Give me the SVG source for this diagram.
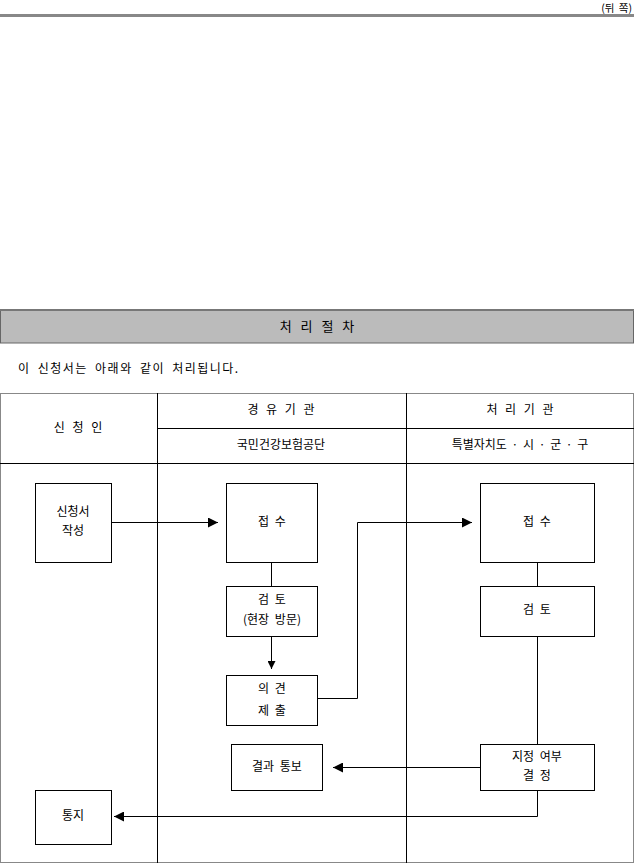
<svg xmlns="http://www.w3.org/2000/svg" width="635" height="865" viewBox="0 0 635 865">
<style>
text{font-family:"Noto Sans CJK KR","Noto Sans",sans-serif;font-size:12px;fill:#000;text-anchor:middle;word-spacing:3px}
.box{fill:#fff;stroke:#000;stroke-width:1}
.ln{fill:none;stroke:#000;stroke-width:1}
</style>
<defs>
<marker id="ah" viewBox="0 0 10 10" refX="10" refY="5" markerWidth="10" markerHeight="10" markerUnits="userSpaceOnUse" orient="auto">
<path d="M0,0 L10,5 L0,10 z" fill="#000"/>
</marker>
<marker id="ahs" viewBox="0 0 10 10" refX="10" refY="5" markerWidth="8" markerHeight="8" markerUnits="userSpaceOnUse" orient="auto">
<path d="M0,0 L10,5 L0,10 z" fill="#000"/>
</marker>
</defs>
<rect width="635" height="865" fill="#fff"/>
<text x="632" y="12" style="text-anchor:end;font-size:10.5px;word-spacing:2px">(뒤 쪽)</text>
<line x1="0" y1="15.5" x2="634" y2="15.5" stroke="#888" stroke-width="3"/>
<g id="title">
<rect x="0.5" y="310" width="633" height="33" fill="#bbb" stroke="#666" stroke-width="1"/>
<line x1="0" y1="310" x2="634" y2="310" stroke="#777" stroke-width="2"/>
<text x="317" y="331" style="font-size:13px;word-spacing:6px">처 리 절 차</text>
</g>
<text x="18" y="373" style="text-anchor:start;letter-spacing:1.5px;word-spacing:3px">이 신청서는 아래와 같이 처리됩니다.</text>
<g id="table">
<rect x="0.5" y="393.5" width="633" height="469" fill="none" stroke="#888" stroke-width="1"/>
<line class="ln" x1="157.5" y1="393" x2="157.5" y2="863"/>
<line class="ln" x1="406.5" y1="393" x2="406.5" y2="863"/>
<line class="ln" x1="157" y1="428.5" x2="634" y2="428.5"/>
<line class="ln" x1="0" y1="463.5" x2="634" y2="463.5"/>
<text x="78" y="432" style="word-spacing:5px">신 청 인</text>
<text x="281" y="414" style="word-spacing:5px">경 유 기 관</text>
<text x="520" y="414" style="word-spacing:5px">처 리 기 관</text>
<text x="281" y="449">국민건강보험공단</text>
<text x="520" y="449" style="word-spacing:2px">특별자치도 · 시 · 군 · 구</text>
</g>
<g id="connectors">
<line class="ln" x1="111" y1="522.5" x2="218" y2="522.5" marker-end="url(#ah)"/>
<line class="ln" x1="271.5" y1="562" x2="271.5" y2="586"/>
<line class="ln" x1="271.5" y1="636" x2="271.5" y2="669" marker-end="url(#ahs)"/>
<polyline class="ln" points="317,698.5 357.5,698.5 357.5,522.5 472,522.5" marker-end="url(#ah)"/>
<line class="ln" x1="537.5" y1="562" x2="537.5" y2="586"/>
<line class="ln" x1="537.5" y1="636" x2="537.5" y2="744"/>
<line class="ln" x1="480" y1="767.5" x2="333" y2="767.5" marker-end="url(#ah)"/>
<polyline class="ln" points="537.5,790 537.5,816.5 114,816.5" marker-end="url(#ah)"/>
</g>
<g id="n1"><rect class="box" x="35.5" y="483.5" width="76" height="79"/><text x="73" y="516">신청서</text><text x="73" y="535">작성</text></g>
<g id="n2"><rect class="box" x="226.5" y="483.5" width="91" height="79"/><text x="272" y="526">접 수</text></g>
<g id="n3"><rect class="box" x="226.5" y="586.5" width="91" height="50"/><text x="272" y="604">검 토</text><text x="272" y="624">(현장 방문)</text></g>
<g id="n4"><rect class="box" x="226.5" y="675.5" width="91" height="50"/><text x="272" y="693">의 견</text><text x="272" y="715">제 출</text></g>
<g id="n5"><rect class="box" x="480.5" y="483.5" width="114" height="79"/><text x="537" y="526">접 수</text></g>
<g id="n6"><rect class="box" x="480.5" y="586.5" width="114" height="50"/><text x="537" y="614">검 토</text></g>
<g id="n7"><rect class="box" x="480.5" y="744.5" width="114" height="46"/><text x="537" y="761">지정 여부</text><text x="537" y="780">결 정</text></g>
<g id="n8"><rect class="box" x="231.5" y="744.5" width="91" height="46"/><text x="277" y="771">결과 통보</text></g>
<g id="n9"><rect class="box" x="35.5" y="790.5" width="76" height="54"/><text x="73" y="820">통지</text></g>
</svg>
